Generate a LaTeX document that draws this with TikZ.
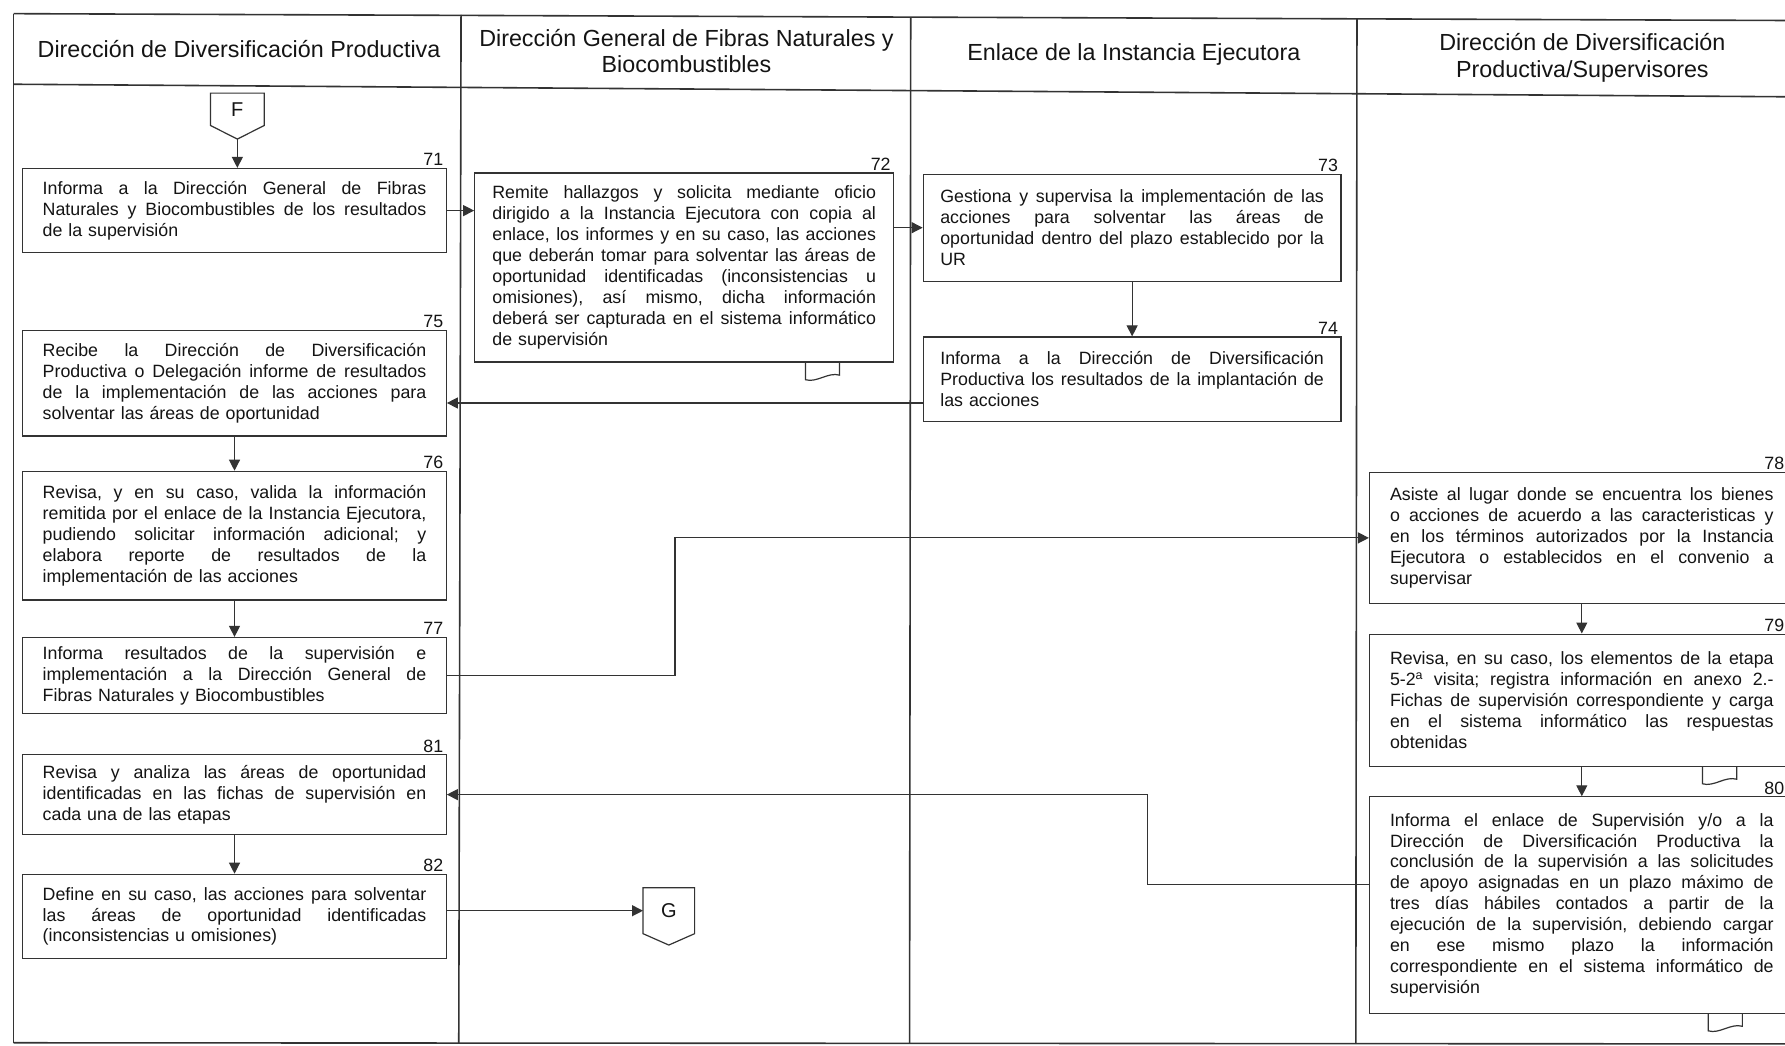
\documentclass[tikz,border=0pt]{standalone}
\usepackage{fontspec}
\setmainfont{Liberation Sans}
\usetikzlibrary{calc,arrows.meta}
\definecolor{ln}{HTML}{333333}
\definecolor{tx}{HTML}{141414}
\hbadness=10000
\hfuzz=50pt
\def\jlwords#1 #2\jlend{#1\ifx\relax#2\relax\else\hfill\jlwords#2\jlend\fi}
\newcommand\jl[1]{\leavevmode\hbox to 383.6pt{\jlwords#1 \jlend}\\}
\newcommand\docmark[2]{%
  \coordinate (dm) at ($(#1.south east)+(#2,0)$);
  \draw[conn] (dm) -- ($(dm)+(0,15)$) .. controls ($(dm)+(10,18)$) and ($(dm)+(20,8)$) .. ($(dm)+(30,11)$) -- ($(dm)+(30,0)$);}
\begin{document}
\begin{tikzpicture}[x=1.1384pt,y=-1.1384pt,
  frame/.style={draw=ln,line width=1.6pt},
  conn/.style={draw=ln,line width=1.2pt},
  arr/.style={draw=ln,line width=1.2pt,-{Triangle[length=11pt,width=11pt]}},
  box/.style={draw=ln,line width=1.2pt,fill=white,inner sep=0pt,align=left,
    text width=383.6pt,text=tx,font=\fontsize{17.8pt}{20.9pt}\selectfont},
  lbox/.style={box,minimum width=423.5pt},
  head/.style={align=center,text=tx,font=\fontsize{23.3pt}{26.5pt}\selectfont},
  num/.style={text=tx,inner sep=0pt,anchor=south east,font=\fontsize{17.8pt}{20pt}\selectfont},
  offp/.style={inner sep=0pt,text=tx,font=\fontsize{20pt}{22pt}\selectfont}]
\useasboundingbox (0,0) rectangle (1568,918.8);
% frame
\draw[frame] (12,12) -- (1568,18);
\draw[frame] (12,74) -- (1568,85);
\draw[frame] (12,12) -- (12,916);
\draw[frame] (12,916) -- (1568,917);
\draw[frame] (405,13) -- (403,916);
\draw[frame] (800,15) -- (799,916);
\draw[frame] (1192,16) -- (1191,917);
% headers
\node[head] (h1) at (210,43) {Dirección de Diversificación Productiva};
\node[head] (h2) at (603,45) {Dirección General de Fibras Naturales y\\Biocombustibles};
\node[head] (h3) at (996,48) {Enlace de la Instancia Ejecutora};
\node[head] (h4) at (1390,51) {Dirección de Diversificación\\Productiva/Supervisores};
% off-page connectors
\node[offp,minimum width=53.5pt,minimum height=31.9pt] (F) at (208.5,96) {F};
\coordinate (Ftip) at ($(F.south)+(0,12)$);
\draw[conn] (F.north west) -- (F.north east) -- (F.south east) -- (Ftip) -- (F.south west) -- cycle;
\node[offp,minimum width=51.2pt,minimum height=45.5pt] (G) at (587.5,800) {G};
\coordinate (Gtip) at ($(G.south)+(0,10)$);
\draw[conn] (G.north west) -- (G.north east) -- (G.south east) -- (Gtip) -- (G.south west) -- cycle;
% left column
\node[lbox,minimum height=84.2pt] (b71) at (206,185) {\jl{Informa a la Dirección General de Fibras}\jl{Naturales y Biocombustibles de los resultados}de la supervisión};
\node[lbox,minimum height=105.9pt] (b75) at (206,336.5) {\jl{Recibe la Dirección de Diversificación}\jl{Productiva o Delegación informe de resultados}\jl{de la implementación de las acciones para}solventar las áreas de oportunidad};
\node[lbox,minimum height=128.6pt] (b76) at (206,470.5) {\jl{Revisa, y en su caso, valida la información}\jl{remitida por el enlace de la Instancia Ejecutora,}\jl{pudiendo solicitar información adicional; y}\jl{elabora reporte de resultados de la}implementación de las acciones};
\node[lbox,minimum height=76.3pt] (b77) at (206,593.5) {\jl{Informa resultados de la supervisión e}\jl{implementación a la Dirección General de}Fibras Naturales y Biocombustibles};
\node[lbox,minimum height=79.7pt] (b81) at (206,698) {\jl{Revisa y analiza las áreas de oportunidad}\jl{identificadas en las fichas de supervisión en}cada una de las etapas};
\node[lbox,minimum height=84.2pt] (b82) at (206,805) {\jl{Define en su caso, las acciones para solventar}\jl{las áreas de oportunidad identificadas}(inconsistencias u omisiones)};
% column 2
\node[box,minimum width=418.9pt,minimum height=189pt] (b72) at (601,235) {\jl{Remite hallazgos y solicita mediante oficio}\jl{dirigido a la Instancia Ejecutora con copia al}\jl{enlace, los informes y en su caso, las acciones}\jl{que deberán tomar para solventar las áreas de}\jl{oportunidad identificadas (inconsistencias u}\jl{omisiones), así mismo, dicha información}\jl{deberá ser capturada en el sistema informático}de supervisión};
% column 3
\node[box,minimum width=417.8pt,minimum height=107pt] (b73) at (994.5,200) {\jl{Gestiona y supervisa la implementación de las}\jl{acciones para solventar las áreas de}\jl{oportunidad dentro del plazo establecido por la}UR};
\node[box,minimum width=417.8pt,minimum height=84.2pt] (b74) at (994.5,333) {\jl{Informa a la Dirección de Diversificación}\jl{Productiva los resultados de la implantación de}las acciones};
% column 4
\node[box,minimum width=424.6pt,minimum height=130.9pt] (b78) at (1389.5,472.5) {\jl{Asiste al lugar donde se encuentra los bienes}\jl{o acciones de acuerdo a las caracteristicas y}\jl{en los términos autorizados por la Instancia}\jl{Ejecutora o establecidos en el convenio a}supervisar};
\node[box,minimum width=424.6pt,minimum height=132pt] (b79) at (1389.5,615) {\jl{Revisa, en su caso, los elementos de la etapa}\jl{5-2\textsuperscript{a} visita; registra información en anexo 2.-}\jl{Fichas de supervisión correspondiente y carga}\jl{en el sistema informático las respuestas}obtenidas};
\node[box,minimum width=424.6pt,minimum height=216.3pt] (b80) at (1389.5,795) {\jl{Informa el enlace de Supervisión y/o a la}\jl{Dirección de Diversificación Productiva la}\jl{conclusión de la supervisión a las solicitudes}\jl{de apoyo asignadas en un plazo máximo de}\jl{tres días hábiles contados a partir de la}\jl{ejecución de la supervisión, debiendo cargar}\jl{en ese mismo plazo la información}\jl{correspondiente en el sistema informático de}supervisión};
% numbers
\foreach \b/\n in {b71/71,b75/75,b76/76,b77/77,b81/81,b82/82,b72/72,b73/73,b74/74}
  \node[num] at ($(\b.north east)+(-3,-1.5)$) {\n};
\foreach \b/\n in {b78/78,b79/79,b80/80}
  \node[num] at ($(\b.north east)+(-9,-1.5)$) {\n};
% document markers
\docmark{b72}{-78}
\docmark{b79}{-81}
\docmark{b80}{-76}
% connectors
\coordinate (j1) at (593,0);
\coordinate (j2) at (1008,0);
\coordinate (a74) at ($(b74.west)+(0,21)$);
\coordinate (a80) at ($(b80.west)+(0,-18)$);
\draw[arr] (Ftip) -- (Ftip |- b71.north);
\draw[arr] (b71.east) -- (b71.east -| b72.west);
\draw[arr] (b73.west -| b72.east) -- (b73.west);
\draw[arr] (b73.south) -- (b74.north);
\draw[arr] (a74) -- (a74 -| b75.east);
\draw[arr] (b75.south) -- (b76.north);
\draw[arr] (b76.south) -- (b77.north);
\draw[arr] (b77.east) -- (b77.east -| j1) |- (b78.west);
\draw[arr] (b78.south) -- (b79.north);
\draw[arr] (b79.south) -- (b80.north);
\draw[arr] (a80) -- (a80 -| j2) |- (b81.east);
\draw[arr] (b81.south) -- (b82.north);
\draw[arr] (G.west -| b82.east) -- (G.west);
\end{tikzpicture}
\end{document}
